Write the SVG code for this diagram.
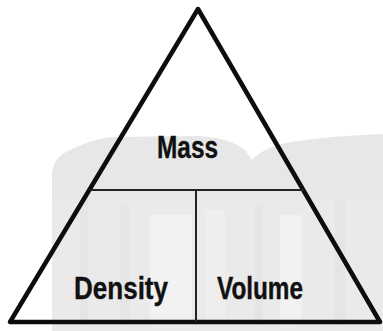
<svg xmlns="http://www.w3.org/2000/svg" width="383" height="331" viewBox="0 0 383 331">
<style>
.lbl{font-family:"Liberation Sans",Arial,sans-serif;font-weight:bold;font-size:32px;fill:#111;stroke:#111;stroke-width:0.4}
.edge{fill:none;stroke:#0d0d0d;stroke-width:4.5;stroke-linejoin:round}
.div{stroke:#222;stroke-width:2}
</style>
<rect width="383" height="331" fill="#ffffff"/>
<g id="watermark">
<path d="M52 331 L52 175 Q52 158 70 150 Q90 140 110 137 L200 136 Q230 138 245 150 L252 160 Q262 148 290 142 Q330 136 383 134 L383 331 Z" fill="#e7e7e7"/>
<rect x="52" y="200" width="331" height="131" fill="#eaeaea"/>
<rect x="150" y="215" width="42" height="110" fill="#f2f2f2"/>
<rect x="205" y="210" width="20" height="115" fill="#eeeeee"/>
<rect x="280" y="215" width="22" height="110" fill="#f1f1f1"/>
<rect x="80" y="200" width="8" height="125" fill="#e5e5e5"/>
<rect x="120" y="205" width="10" height="120" fill="#e6e6e6"/>
<rect x="255" y="205" width="8" height="120" fill="#e5e5e5"/>
<rect x="335" y="200" width="10" height="125" fill="#e5e5e5"/>
</g>
<g id="triangle">
<path class="edge" d="M198 9 L10 322 L380 322 Z"/>
</g>
<g id="connectors">
<line class="div" x1="90" y1="190" x2="304" y2="190"/>
<line class="div" x1="196" y1="190" x2="196" y2="322"/>
</g>
<g id="mass"><text class="lbl" x="157" y="158" textLength="61" lengthAdjust="spacingAndGlyphs">Mass</text></g>
<g id="density"><text class="lbl" x="74" y="299" textLength="94" lengthAdjust="spacingAndGlyphs">Density</text></g>
<g id="volume"><text class="lbl" x="217" y="299" textLength="86" lengthAdjust="spacingAndGlyphs">Volume</text></g>
</svg>
